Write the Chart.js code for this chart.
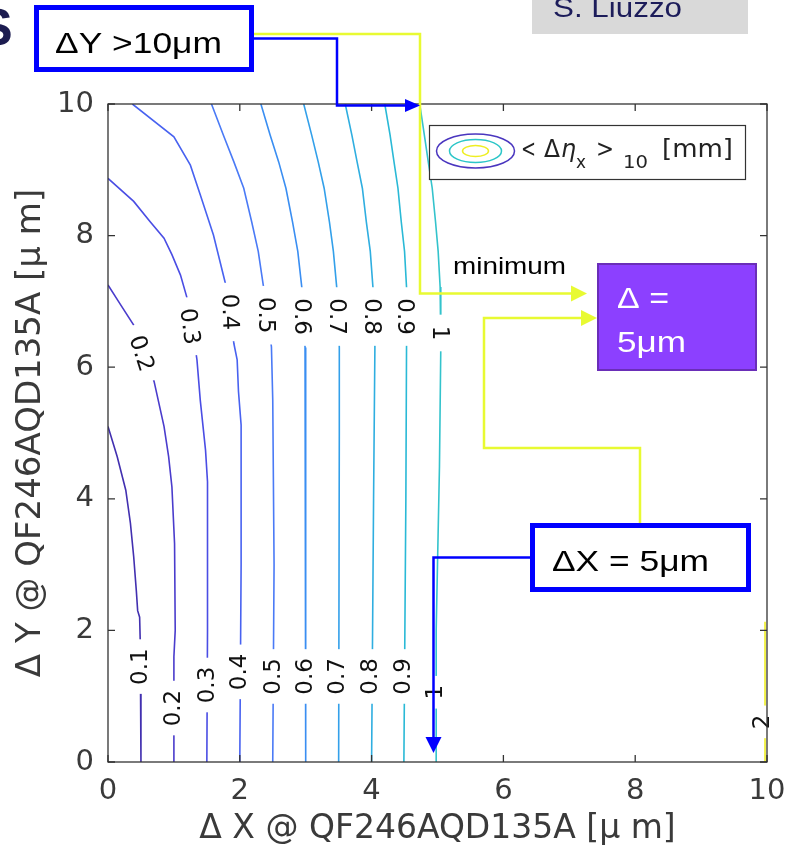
<!DOCTYPE html>
<html><head><meta charset="utf-8">
<script src="https://cdn.jsdelivr.net/npm/chart.js@4.4.1/dist/chart.umd.min.js"></script>
<style>html,body{margin:0;padding:0;background:#fff;}canvas{display:block;}</style>
</head><body>
<canvas id="c" width="798" height="859"></canvas>
<script>
// ---------- data ----------
const xTicks = [0, 2, 4, 6, 8, 10];
const yTicks = [0, 2, 4, 6, 8, 10];
const contourLevels = ['0.1','0.2','0.3','0.4','0.5','0.6','0.7','0.8','0.9','1','2'];

const c01x = [0, 0.14, 0.27, 0.34, 0.39, 0.43, 0.45, 0.48, 0.49, 0.50, 0.50];
const c01y = [5.10, 4.64, 4.13, 3.63, 3.12, 2.60, 2.30, 2.20, 1.80, 1.00, 0];
const c02x = [0, 0.19, 0.39, 0.55, 0.70, 0.85, 0.92, 0.97, 1.01, 1.02, 1.00, 1.00];
const c02y = [7.25, 6.95, 6.64, 6.20, 5.78, 5.10, 4.64, 4.18, 3.32, 2.00, 1.60, 0];
const c03x = [0, 0.39, 0.64, 0.85, 0.97, 1.10, 1.20, 1.28, 1.35, 1.40, 1.48, 1.51, 1.51, 1.50];
const c03y = [8.87, 8.52, 8.21, 7.96, 7.71, 7.40, 7.05, 6.60, 6.11, 5.50, 4.74, 4.26, 2.00, 0];
const c04x = [0.37, 1.00, 1.25, 1.40, 1.60, 1.78, 1.85, 1.91, 1.96, 1.98, 2.02, 2.02, 2.00];
const c04y = [10, 9.50, 9.07, 8.62, 8.01, 7.28, 6.84, 6.36, 6.11, 5.63, 5.12, 3.00, 0];
const c05x = [1.57, 1.75, 1.91, 2.06, 2.18, 2.28, 2.36, 2.42, 2.48, 2.50, 2.52, 2.50];
const c05y = [10, 9.53, 9.12, 8.72, 8.21, 7.76, 7.22, 6.80, 6.31, 5.50, 3.00, 0];
const c06x = [2.32, 2.46, 2.59, 2.70, 2.80, 2.88, 2.94, 2.97, 2.99, 3.00, 3.00];
const c06y = [10, 9.53, 9.12, 8.72, 8.21, 7.76, 7.22, 6.80, 6.30, 5.00, 0];
const c07x = [2.97, 3.09, 3.19, 3.28, 3.36, 3.42, 3.47, 3.49, 3.51, 3.51, 3.50];
const c07y = [10, 9.53, 9.12, 8.72, 8.21, 7.76, 7.22, 6.80, 6.30, 5.00, 0];
const c08x = [3.60, 3.70, 3.78, 3.86, 3.92, 3.98, 4.02, 4.04, 4.05, 4.03, 4.00];
const c08y = [10, 9.53, 9.12, 8.72, 8.21, 7.76, 7.22, 6.80, 6.30, 4.00, 0];
const c09x = [4.20, 4.28, 4.34, 4.40, 4.45, 4.50, 4.53, 4.54, 4.53, 4.52, 4.49];
const c09y = [10, 9.53, 9.12, 8.72, 8.21, 7.76, 7.22, 6.80, 6.30, 4.00, 0];
const c10x = [4.73, 4.80, 4.86, 4.92, 4.97, 5.01, 5.04, 5.05, 5.05, 5.03, 5.00, 4.98, 4.98];
const c10y = [10, 9.53, 9.12, 8.72, 8.21, 7.76, 7.22, 6.80, 6.30, 4.50, 3.00, 2.00, 0];
const c20x = [9.97, 9.97];
const c20y = [0, 2.13];

// inline contour labels (upper row and lower row)
const upperLabelText = ['0.2','0.3','0.4','0.5','0.6','0.7','0.8','0.9','1'];
const upperLabelX = [0.51, 1.24, 1.85, 2.40, 2.94, 3.48, 4.00, 4.51, 5.04];
const upperLabelY = [6.21, 6.62, 6.84, 6.79, 6.77, 6.77, 6.77, 6.77, 6.52];
const lowerLabelText = ['0.1','0.2','0.3','0.4','0.5','0.6','0.7','0.8','0.9','1','2'];
const lowerLabelX = [0.48, 0.98, 1.50, 1.99, 2.50, 2.99, 3.48, 3.98, 4.48, 4.96, 9.92];
const lowerLabelY = [1.45, 0.82, 1.17, 1.37, 1.30, 1.30, 1.30, 1.30, 1.30, 1.06, 0.61];

// ---------- styles ----------
const contourColors = ['#4230b0','#4a3ccc','#4a4de4','#4862f0','#4a7af6','#3a8ef2','#33a0ea','#2faee0','#2ab9d6','#33c3cc','#eeee22'];
const upperLabelRot = [72, 82, 88, 90, 90, 90, 90, 90, 90];
const FONT_AX = 'DejaVu Sans';
const FONT_AN = 'Liberation Sans, Arial, sans-serif';

const allX = [c01x,c02x,c03x,c04x,c05x,c06x,c07x,c08x,c09x,c10x,c20x];
const allY = [c01y,c02y,c03y,c04y,c05y,c06y,c07y,c08y,c09y,c10y,c20y];
const datasets = contourLevels.map((lv, i) => ({
  label: lv,
  data: allX[i].map((x, j) => ({x: x, y: allY[i][j]})),
  showLine: true, pointRadius: 0, borderWidth: 1.6,
  borderColor: contourColors[i], backgroundColor: contourColors[i], tension: 0, fill: false
}));

function fitText(ctx, txt, x, y, font, color, w) {
  ctx.save();
  ctx.font = font; ctx.fillStyle = color; ctx.textAlign = 'left'; ctx.textBaseline = 'alphabetic';
  const nat = ctx.measureText(txt).width;
  ctx.translate(x, y); ctx.scale(w ? w / nat : 1, 1);
  ctx.fillText(txt, 0, 0);
  ctx.restore();
}
function arrowPath(ctx, pts, color, lw, head) {
  ctx.save();
  ctx.strokeStyle = color; ctx.fillStyle = color; ctx.lineWidth = lw; ctx.lineJoin = 'miter';
  ctx.beginPath();
  pts.forEach((p, i) => i ? ctx.lineTo(p[0], p[1]) : ctx.moveTo(p[0], p[1]));
  ctx.stroke();
  if (head) {
    const [tx, ty, len, hw] = head;
    const p = pts[pts.length - 1];
    const dx = tx - p[0], dy = ty - p[1], d = Math.hypot(dx, dy) || 1;
    const ux = dx / d, uy = dy / d;
    const bx = tx - ux * len, by = ty - uy * len;
    ctx.beginPath();
    ctx.moveTo(tx, ty);
    ctx.lineTo(bx - uy * hw, by + ux * hw);
    ctx.lineTo(bx + uy * hw, by - ux * hw);
    ctx.closePath(); ctx.fill();
  }
  ctx.restore();
}

const framePlugin = {
  id: 'frame',
  afterDatasetsDraw(chart) {
    const {ctx, chartArea: a, scales: {x, y}} = chart;
    // contour labels
    const drawLab = (t, vx, vy, rot, pad) => {
      const px = x.getPixelForValue(vx), py = y.getPixelForValue(vy);
      ctx.save();
      ctx.translate(px, py); ctx.rotate(rot * Math.PI / 180);
      ctx.font = '23px "' + FONT_AX + '"';
      const w = ctx.measureText(t).width;
      ctx.fillStyle = '#fff';
      ctx.fillRect(-w / 2 - pad, -9, w + 2 * pad, 18);
      ctx.fillStyle = '#111'; ctx.textAlign = 'center'; ctx.textBaseline = 'middle';
      ctx.fillText(t, 0, 1);
      ctx.restore();
    };
    upperLabelText.forEach((t, i) => drawLab(t, upperLabelX[i], upperLabelY[i], upperLabelRot[i], 11));
    lowerLabelText.forEach((t, i) => drawLab(t, lowerLabelX[i], lowerLabelY[i], -90, 9));
    // axes box + inward ticks
    ctx.save();
    ctx.strokeStyle = '#333'; ctx.lineWidth = 1.3;
    ctx.strokeRect(a.left, a.top, a.right - a.left, a.bottom - a.top);
    ctx.beginPath();
    xTicks.forEach(v => { const p = x.getPixelForValue(v);
      ctx.moveTo(p, a.bottom); ctx.lineTo(p, a.bottom - 7);
      ctx.moveTo(p, a.top); ctx.lineTo(p, a.top + 7); });
    yTicks.forEach(v => { const p = y.getPixelForValue(v);
      ctx.moveTo(a.left, p); ctx.lineTo(a.left + 7, p);
      ctx.moveTo(a.right, p); ctx.lineTo(a.right - 7, p); });
    ctx.stroke();
    ctx.restore();
    // legend
    ctx.save();
    ctx.fillStyle = '#fff'; ctx.fillRect(429.5, 125.5, 316, 54);
    ctx.strokeStyle = '#333'; ctx.lineWidth = 1.2; ctx.strokeRect(429.5, 125.5, 316, 54);
    const ell = (rx, ry, col) => { ctx.beginPath(); ctx.ellipse(475.5, 151, rx, ry, 0, 0, Math.PI * 2); ctx.strokeStyle = col; ctx.lineWidth = 1.5; ctx.stroke(); };
    ell(39, 17, '#4a36bf'); ell(26, 11.5, '#2cc6c8'); ell(13, 5.5, '#eeee22');
    ctx.restore();
    const LF = '"DejaVu Sans"';
    fitText(ctx, '<', 521, 157, '24px ' + LF, '#222', 15);
    fitText(ctx, 'Δ', 544, 157, '24px ' + LF, '#222', 16);
    fitText(ctx, 'η', 561, 157, 'italic 24px ' + LF, '#222', 15);
    fitText(ctx, 'x', 576, 168, '17px ' + LF, '#222', 10);
    fitText(ctx, '>', 596, 157, '24px ' + LF, '#222', 18);
    fitText(ctx, '10', 623, 168, '17px ' + LF, '#222', 25);
    fitText(ctx, '[mm]', 662, 157, '24px ' + LF, '#222', 71);
  }
};

const annotPlugin = {
  id: 'annot',
  afterDraw(chart) {
    const ctx = chart.ctx;
    const Y = 'rgb(232,250,50)', B = '#0000ff';
    // gray author box
    ctx.fillStyle = '#d9d9d9'; ctx.fillRect(532, 0, 216, 34);
    fitText(ctx, 'S. Liuzzo', 553, 17, '28px ' + FONT_AN, '#1c1c5a', 129);
    // big S cut at left
    fitText(ctx, 'S', -22, 45, 'bold 52px ' + FONT_AN, '#1c1c50', 0);
    // connector lines
    arrowPath(ctx, [[254, 34], [420, 34], [420, 293.5], [572, 293.5]], Y, 2.5, [587, 293.5, 16, 8]);
    arrowPath(ctx, [[640, 523], [640, 448], [484, 448], [484, 318], [582, 318]], Y, 2.5, [597, 318, 16, 8]);
    arrowPath(ctx, [[254, 38.5], [337, 38.5], [337, 105.5], [406, 105.5]], B, 2.5, [420, 105.5, 15, 6.5]);
    arrowPath(ctx, [[530, 557.5], [433.5, 557.5], [433.5, 738]], B, 2.5, [433.5, 753, 16, 8]);
    // boxes
    ctx.fillStyle = '#fff'; ctx.fillRect(34, 5, 220, 67);
    ctx.strokeStyle = B; ctx.lineWidth = 5; ctx.strokeRect(36.5, 7.5, 215, 62);
    fitText(ctx, 'ΔY >10μm', 55, 53, '30px ' + FONT_AN, '#000', 167);
    ctx.fillStyle = '#fff'; ctx.fillRect(530, 523, 221, 69);
    ctx.strokeStyle = B; ctx.lineWidth = 5; ctx.strokeRect(532.5, 525.5, 216, 64);
    fitText(ctx, 'ΔX = 5μm', 552, 571, '30px ' + FONT_AN, '#000', 157);
    ctx.fillStyle = '#8c40ff'; ctx.fillRect(597, 263, 160, 108);
    ctx.strokeStyle = '#6a2eb8'; ctx.lineWidth = 2; ctx.strokeRect(598, 264, 158, 106);
    fitText(ctx, 'Δ =', 617, 308, '29px ' + FONT_AN, '#fff', 52);
    fitText(ctx, '5μm', 617, 352, '29px ' + FONT_AN, '#fff', 69);
    fitText(ctx, 'minimum', 453, 274, '24px ' + FONT_AN, '#000', 113);
  }
};

new Chart(document.getElementById('c'), {
  type: 'scatter',
  data: {datasets: datasets},
  options: {
    responsive: false, animation: false, events: [],
    layout: {padding: {left: 0, top: 104, right: 31, bottom: 0}},
    plugins: {legend: {display: false}, tooltip: {enabled: false}},
    scales: {
      x: {
        type: 'linear', min: 0, max: 10,
        afterBuildTicks: s => { s.ticks = xTicks.map(v => ({value: v})); },
        afterFit: s => { s.height = 97; },
        grid: {display: false, drawTicks: false}, border: {display: false},
        ticks: {padding: 12, color: '#3a3a3a', font: {family: FONT_AX, size: 29}, maxRotation: 0, autoSkip: false},
        title: {display: true, text: 'Δ X @ QF246AQD135A [μ m]', color: '#3a3a3a', font: {family: FONT_AX, size: 33}, padding: {top: 0, bottom: 10}}
      },
      y: {
        type: 'linear', min: 0, max: 10,
        afterBuildTicks: s => { s.ticks = yTicks.map(v => ({value: v})); },
        afterFit: s => { s.width = 108; },
        grid: {display: false, drawTicks: false}, border: {display: false},
        ticks: {padding: 14, color: '#3a3a3a', font: {family: FONT_AX, size: 29}, autoSkip: false},
        title: {display: true, text: 'Δ Y @ QF246AQD135A [μ m]', color: '#3a3a3a', font: {family: FONT_AX, size: 34}, padding: {top: 11, bottom: 0}}
      }
    }
  },
  plugins: [framePlugin, annotPlugin]
});
</script>
</body></html>
